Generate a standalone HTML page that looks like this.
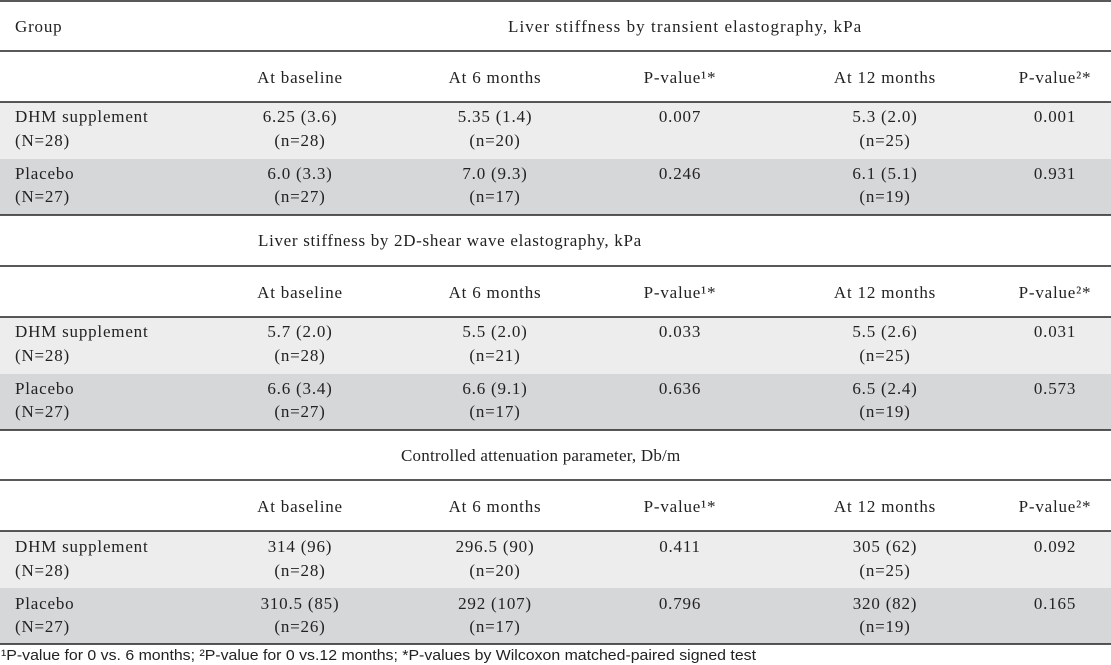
<!DOCTYPE html>
<html><head><meta charset="utf-8"><style>
html,body{margin:0;padding:0;background:#fff;}
svg{display:block;}
text{font-family:"Liberation Serif",serif;font-size:17px;fill:#222;letter-spacing:0.8px;}
.c{text-anchor:middle;}
.f{font-family:"Liberation Sans",sans-serif;font-size:15px;letter-spacing:0;}
</style></head><body>
<svg width="1111" height="665" viewBox="0 0 1111 665">
<rect x="0" y="102" width="1111" height="57" fill="#ededee"/>
<rect x="0" y="159" width="1111" height="56" fill="#d6d7d9"/>
<rect x="0" y="317" width="1111" height="57" fill="#ededee"/>
<rect x="0" y="374" width="1111" height="56" fill="#d6d7d9"/>
<rect x="0" y="531" width="1111" height="57" fill="#ededee"/>
<rect x="0" y="588" width="1111" height="56" fill="#d6d7d9"/>
<g stroke="#222" stroke-width="1.5">
<line x1="0" y1="1" x2="1111" y2="1"/>
<line x1="0" y1="51" x2="1111" y2="51"/>
<line x1="0" y1="102" x2="1111" y2="102"/>
<line x1="0" y1="215" x2="1111" y2="215"/>
<line x1="0" y1="266" x2="1111" y2="266"/>
<line x1="0" y1="317" x2="1111" y2="317"/>
<line x1="0" y1="430" x2="1111" y2="430"/>
<line x1="0" y1="480" x2="1111" y2="480"/>
<line x1="0" y1="531" x2="1111" y2="531"/>
<line x1="0" y1="644" x2="1111" y2="644"/>
</g>
<text x="15" y="32">Group</text>
<text class="c" x="685" y="32" textLength="354">Liver stiffness by transient elastography, kPa</text>
<text class="c" x="450" y="246" textLength="384">Liver stiffness by 2D-shear wave elastography, kPa</text>
<text class="c" x="541" y="461" textLength="280">Controlled attenuation parameter, Db/m</text>

<text class="c" x="300" y="83">At baseline</text><text class="c" x="495" y="83">At 6 months</text><text class="c" x="680" y="83">P-value¹*</text><text class="c" x="885" y="83">At 12 months</text><text class="c" x="1055" y="83">P-value²*</text>
<text class="c" x="300" y="298">At baseline</text><text class="c" x="495" y="298">At 6 months</text><text class="c" x="680" y="298">P-value¹*</text><text class="c" x="885" y="298">At 12 months</text><text class="c" x="1055" y="298">P-value²*</text>
<text class="c" x="300" y="512">At baseline</text><text class="c" x="495" y="512">At 6 months</text><text class="c" x="680" y="512">P-value¹*</text><text class="c" x="885" y="512">At 12 months</text><text class="c" x="1055" y="512">P-value²*</text>

<text x="15" y="122">DHM supplement</text><text x="15" y="146">(N=28)</text>
<text class="c" x="300" y="122">6.25 (3.6)</text><text class="c" x="300" y="146">(n=28)</text>
<text class="c" x="495" y="122">5.35 (1.4)</text><text class="c" x="495" y="146">(n=20)</text>
<text class="c" x="680" y="122">0.007</text>
<text class="c" x="885" y="122">5.3 (2.0)</text><text class="c" x="885" y="146">(n=25)</text>
<text class="c" x="1055" y="122">0.001</text>

<text x="15" y="179">Placebo</text><text x="15" y="202">(N=27)</text>
<text class="c" x="300" y="179">6.0 (3.3)</text><text class="c" x="300" y="202">(n=27)</text>
<text class="c" x="495" y="179">7.0 (9.3)</text><text class="c" x="495" y="202">(n=17)</text>
<text class="c" x="680" y="179">0.246</text>
<text class="c" x="885" y="179">6.1 (5.1)</text><text class="c" x="885" y="202">(n=19)</text>
<text class="c" x="1055" y="179">0.931</text>

<text x="15" y="337">DHM supplement</text><text x="15" y="361">(N=28)</text>
<text class="c" x="300" y="337">5.7 (2.0)</text><text class="c" x="300" y="361">(n=28)</text>
<text class="c" x="495" y="337">5.5 (2.0)</text><text class="c" x="495" y="361">(n=21)</text>
<text class="c" x="680" y="337">0.033</text>
<text class="c" x="885" y="337">5.5 (2.6)</text><text class="c" x="885" y="361">(n=25)</text>
<text class="c" x="1055" y="337">0.031</text>

<text x="15" y="394">Placebo</text><text x="15" y="417">(N=27)</text>
<text class="c" x="300" y="394">6.6 (3.4)</text><text class="c" x="300" y="417">(n=27)</text>
<text class="c" x="495" y="394">6.6 (9.1)</text><text class="c" x="495" y="417">(n=17)</text>
<text class="c" x="680" y="394">0.636</text>
<text class="c" x="885" y="394">6.5 (2.4)</text><text class="c" x="885" y="417">(n=19)</text>
<text class="c" x="1055" y="394">0.573</text>

<text x="15" y="552">DHM supplement</text><text x="15" y="576">(N=28)</text>
<text class="c" x="300" y="552">314 (96)</text><text class="c" x="300" y="576">(n=28)</text>
<text class="c" x="495" y="552">296.5 (90)</text><text class="c" x="495" y="576">(n=20)</text>
<text class="c" x="680" y="552">0.411</text>
<text class="c" x="885" y="552">305 (62)</text><text class="c" x="885" y="576">(n=25)</text>
<text class="c" x="1055" y="552">0.092</text>

<text x="15" y="609">Placebo</text><text x="15" y="632">(N=27)</text>
<text class="c" x="300" y="609">310.5 (85)</text><text class="c" x="300" y="632">(n=26)</text>
<text class="c" x="495" y="609">292 (107)</text><text class="c" x="495" y="632">(n=17)</text>
<text class="c" x="680" y="609">0.796</text>
<text class="c" x="885" y="609">320 (82)</text><text class="c" x="885" y="632">(n=19)</text>
<text class="c" x="1055" y="609">0.165</text>

<text class="f" x="1" y="660" textLength="755" lengthAdjust="spacingAndGlyphs">¹P-value for 0 vs. 6 months; ²P-value for 0 vs.12 months; *P-values by Wilcoxon matched-paired signed test</text>
</svg>
</body></html>
